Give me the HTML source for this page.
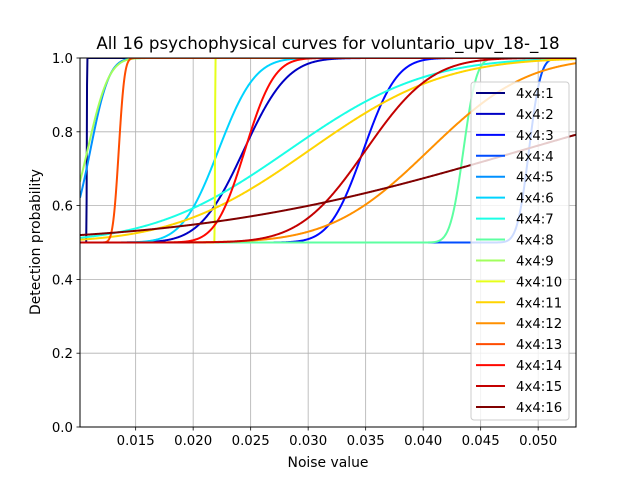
<!DOCTYPE html>
<html><head><meta charset="utf-8"><style>
body{margin:0;background:#fff;}
svg text{font-family:"DejaVu Sans","Liberation Sans",sans-serif;fill:#000;}
</style></head><body>
<svg id="chart" width="640" height="480" xmlns="http://www.w3.org/2000/svg">
<rect width="640" height="480" fill="#fff"/>
<text x="328" y="49" font-size="16.7" text-anchor="middle">All 16 psychophysical curves for voluntario_upv_18-_18</text>
<text x="328" y="467" font-size="13.9" text-anchor="middle">Noise value</text>
<text x="40" y="242" font-size="13.9" text-anchor="middle" transform="rotate(-90 40 242)">Detection probability</text>
<g id="grid"></g>
<defs><clipPath id="plotclip"><rect x="80" y="58" width="496" height="369"/></clipPath></defs>
<g id="curves" clip-path="url(#plotclip)"></g>
<rect x="80" y="58" width="496" height="369" fill="none" stroke="#000" stroke-width="1"/>
<g id="ticks"></g>
<g id="legend"></g>
</svg>
<script>
const labels = ["4x4:1","4x4:2","4x4:3","4x4:4","4x4:5","4x4:6","4x4:7","4x4:8","4x4:9","4x4:10","4x4:11","4x4:12","4x4:13","4x4:14","4x4:15","4x4:16"];
const colors = ["#000080","#0000c4","#0008ff","#004cff","#0090ff","#00d4ff","#1affe6","#5dffa1","#a1ff5d","#e6ff1a","#ffd400","#ff9000","#ff4c00","#ff0800","#c40000","#800000"];
const mus = [0.01075,0.0244,0.0348,0.0492,0.01106,0.0222,0.0283,0.0435,0.01081,0.0219,0.0301,0.0405,0.01353,0.0245,0.0350,0.0486];
const sigmas = [0.00002,0.0030,0.0023,0.0008,0.00129,0.0025,0.0093,0.0009,0.00148,0.00002,0.0092,0.0067,0.0004,0.0020,0.0045,0.022];
const xTicks = [0.015,0.020,0.025,0.030,0.035,0.040,0.045,0.050];
const xTickLabels = ["0.015","0.020","0.025","0.030","0.035","0.040","0.045","0.050"];
const yTicks = [0,0.2,0.4,0.6,0.8,1.0];
const yTickLabels = ["0.0","0.2","0.4","0.6","0.8","1.0"];
const xMin = 0.01016, xMax = 0.05329;

const L=80,R=576,T=58,B=427;
function xs(v){return L+(v-xMin)/(xMax-xMin)*(R-L);}
function ys(v){return B-v*(B-T);}
function erf(x){const s=x<0?-1:1;x=Math.abs(x);const t=1/(1+0.3275911*x);
 const y=1-(((((1.061405429*t-1.453152027)*t)+1.421413741)*t-0.284496736)*t+0.254829592)*t*Math.exp(-x*x);return s*y;}
function phi(z){return 0.5*(1+erf(z/Math.SQRT2));}
const NS="http://www.w3.org/2000/svg";
function mk(tag,attrs,parent){const e=document.createElementNS(NS,tag);for(const k in attrs)e.setAttribute(k,attrs[k]);parent.appendChild(e);return e;}

const grid=document.getElementById('grid'), ticks=document.getElementById('ticks');
xTicks.forEach((t,i)=>{
 const x=xs(t);
 const g=mk('line',{x1:x,x2:x,y1:T,y2:B,stroke:'#b0b0b0','stroke-width':0.8},grid);
 
 
 const tk=mk('line',{x1:x,x2:x,y1:B,y2:B+3.5,stroke:'#000','stroke-width':0.8},ticks);
 
 
 const tx=mk('text',{x:x,y:B+18,'font-size':13.3,'text-anchor':'middle'},ticks);
 tx.textContent=xTickLabels[i];
 
 
});
yTicks.forEach((t,i)=>{
 const y=ys(t);
 const g=mk('line',{x1:L,x2:R,y1:y,y2:y,stroke:'#b0b0b0','stroke-width':0.8},grid);
 
 
 const tk=mk('line',{x1:L-3.5,x2:L,y1:y,y2:y,stroke:'#000','stroke-width':0.8},ticks);
 
 
 const tx=mk('text',{x:L-7,y:y+5,'font-size':13.3,'text-anchor':'end'},ticks);
 tx.textContent=yTickLabels[i];
 
 
});

const curves=document.getElementById('curves');
for(let c=0;c<labels.length;c++){
 let d='';const N=1200;
 for(let k=0;k<=N;k++){
  const x=xMin+(xMax-xMin)*k/N;
  const p=0.5+0.5*phi((x-mus[c])/sigmas[c]);
  d+=(k?'L':'M')+xs(x).toFixed(2)+','+ys(p).toFixed(2);
 }
 const path=mk('path',{d:d,fill:'none',stroke:colors[c],'stroke-width':2},curves);
 
 
}

const leg=document.getElementById('legend');
const box=mk('rect',{x:471,y:82,width:98,height:338,rx:3,fill:'#fff','fill-opacity':0.8,stroke:'#ccc','stroke-width':1},leg);


labels.forEach((lab,i)=>{
 const y=93+i*20.93;
 const g=mk('g',{},leg);
 
 
 mk('line',{x1:476,x2:505,y1:y,y2:y,stroke:colors[i],'stroke-width':2},g);
 const t=mk('text',{x:516,y:y+5,'font-size':13.3},g);
 t.textContent=lab;
});
</script>
</body></html>
